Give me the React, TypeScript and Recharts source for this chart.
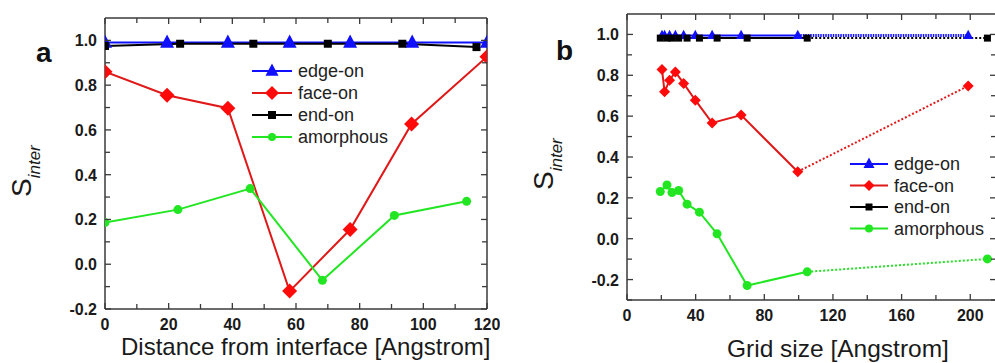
import React from "react";
import { LineChart, Line, XAxis, YAxis } from "recharts";

// ---- panel a: S_inter vs distance from interface ----
const aEdgeX = [0, 19.5, 38.6, 58, 77, 96.5, 120];
const aEdgeY = [0.99, 0.99, 0.99, 0.99, 0.99, 0.99, 0.99];
const aFaceX = [0, 19.5, 38.6, 58, 77, 96.3, 120];
const aFaceY = [0.86, 0.755, 0.697, -0.12, 0.155, 0.627, 0.927];
const aEndX = [0, 23.6, 46.6, 70, 93.4, 116.7];
const aEndY = [0.975, 0.985, 0.985, 0.985, 0.985, 0.97];
const aAmorX = [0, 22.9, 45.6, 68.3, 90.9, 113.6];
const aAmorY = [0.186, 0.244, 0.338, -0.072, 0.218, 0.281];

// ---- panel b: S_inter vs grid size (last segment dotted) ----
const bFaceX = [20.4, 21.9, 24.8, 28.2, 33, 39.8, 49.6, 66.5, 99.5, 198.8];
const bFaceY = [0.828, 0.719, 0.776, 0.816, 0.76, 0.678, 0.567, 0.605, 0.328, 0.748];
const bEdgeY = [0.995, 0.995, 0.995, 0.995, 0.995, 0.995, 0.995, 0.995, 0.995, 0.995];
const bAmorX = [19.4, 23.3, 26.2, 30.1, 35, 42.2, 52.5, 70, 105, 210];
const bAmorY = [0.231, 0.263, 0.226, 0.236, 0.169, 0.13, 0.024, -0.229, -0.162, -0.099];
const bEndY = [0.982, 0.982, 0.982, 0.982, 0.982, 0.982, 0.982, 0.982, 0.982, 0.982];

// axis ticks
const aXTicks = [0, 10, 20, 30, 40, 50, 60, 70, 80, 90, 100, 110, 120];
const aYTicks = [-0.2, -0.1, 0, 0.1, 0.2, 0.3, 0.4, 0.5, 0.6, 0.7, 0.8, 0.9, 1.0];
const bXTicks = [0, 20, 40, 60, 80, 100, 120, 140, 160, 180, 200];
const bYTicks = [-0.3, -0.2, -0.1, 0, 0.1, 0.2, 0.3, 0.4, 0.5, 0.6, 0.7, 0.8, 0.9, 1.0];

const seriesNames = ["edge-on", "face-on", "end-on", "amorphous"];

const FONT = '"Liberation Sans", Arial, sans-serif';
const AXIS = "#3a3a3a";
const BLUE = "#1010ff";
const RED = "#ff0a0a";
const RED_LINE = "#e01818";
const BLACK = "#000000";
const GREEN = "#22e622";

const pts = (xs: number[], ys: number[]) => xs.map((x, i) => ({ x, y: ys[i] }));

type Shape = "triangle" | "diamond" | "square" | "circle";

function Marker({ shape, cx, cy, s, fill }: { shape: Shape; cx: number; cy: number; s: number; fill: string }) {
  if (shape === "triangle")
    return <polygon points={`${cx},${cy - s * 0.58} ${cx - s / 2},${cy + s * 0.36} ${cx + s / 2},${cy + s * 0.36}`} fill={fill} />;
  if (shape === "diamond")
    return <polygon points={`${cx},${cy - s / 2} ${cx + s / 2},${cy} ${cx},${cy + s / 2} ${cx - s / 2},${cy}`} fill={fill} />;
  if (shape === "square") return <rect x={cx - s / 2} y={cy - s / 2} width={s} height={s} fill={fill} />;
  return <circle cx={cx} cy={cy} r={s / 2} fill={fill} />;
}

const dotFn = (shape: Shape, s: number, fill: string) => (p: any) => (
  <g key={`d-${p.index}`}>
    {p.cx != null && p.cy != null ? <Marker shape={shape} cx={p.cx} cy={p.cy} s={s} fill={fill} /> : null}
  </g>
);

const isMajor = (v: number, step: number) => Math.abs(Math.round(v / step) * step - v) < 1e-6;

const xTick = (side: "bottom" | "top", step: number) => (p: any) => {
  const v = p.payload.value;
  const major = isMajor(v, step);
  const dir = side === "bottom" ? -1 : 1;
  return (
    <g>
      <line x1={p.x} x2={p.x} y1={p.y} y2={p.y + dir * (major ? 6 : 5)} stroke={AXIS} strokeWidth={1.3} />
      {side === "bottom" && major ? (
        <text x={p.x} y={p.y + 21} textAnchor="middle" fontFamily={FONT} fontWeight="bold" fontSize={16} fill="#1a1a1a">
          {v}
        </text>
      ) : null}
    </g>
  );
};

const yTick = (side: "left" | "right") => (p: any) => {
  const v = p.payload.value;
  const major = isMajor(v, 0.2);
  const dir = side === "left" ? 1 : -1;
  return (
    <g>
      <line x1={p.x} x2={p.x + dir * (major ? 6 : 5)} y1={p.y} y2={p.y} stroke={AXIS} strokeWidth={1.3} />
      {side === "left" && major ? (
        <text x={p.x - 8} y={p.y + 6} textAnchor="end" fontFamily={FONT} fontWeight="bold" fontSize={16} fill="#1a1a1a">
          {v.toFixed(1)}
        </text>
      ) : null}
    </g>
  );
};

function Axes({ xDomain, yDomain, xTicks, yTicks, xStep, yWidth }: any) {
  return [
    <XAxis key="xb" xAxisId="b" type="number" dataKey="x" domain={xDomain} allowDataOverflow ticks={xTicks} interval={0}
      tickSize={0} tickMargin={0} height={30} tick={xTick("bottom", xStep)} tickLine={false}
      axisLine={{ stroke: AXIS, strokeWidth: 1.5 }} />,
    <XAxis key="xt" xAxisId="t" orientation="top" type="number" dataKey="x" domain={xDomain} allowDataOverflow ticks={xTicks} interval={0}
      tickSize={0} tickMargin={0} height={1} tick={xTick("top", xStep)} tickLine={false}
      axisLine={{ stroke: AXIS, strokeWidth: 1.5 }} />,
    <YAxis key="yl" yAxisId="l" type="number" domain={yDomain} allowDataOverflow ticks={yTicks} interval={0}
      tickSize={0} tickMargin={0} width={yWidth} tick={yTick("left")} tickLine={false}
      axisLine={{ stroke: AXIS, strokeWidth: 1.5 }} />,
    <YAxis key="yr" yAxisId="r" orientation="right" type="number" dataKey="y" domain={yDomain} allowDataOverflow ticks={yTicks} interval={0}
      tickSize={0} tickMargin={0} width={1} tick={yTick("right")} tickLine={false}
      axisLine={{ stroke: AXIS, strokeWidth: 1.5 }} />,
  ];
}

function PanelA() {
  const common = { xAxisId: "b", yAxisId: "l", dataKey: "y", type: "linear" as const, isAnimationActive: false, strokeWidth: 2 };
  return (
    <LineChart width={500} height={363} margin={{ top: 17, right: 12, bottom: 24, left: 0 }}>
      {Axes({ xDomain: [0, 120], yDomain: [-0.2, 1.1], xTicks: aXTicks, yTicks: aYTicks, xStep: 20, yWidth: 105 })}
      {/* invisible series so the mirrored top/right frame axes get drawn */}
      <Line xAxisId="t" yAxisId="r" dataKey="y" data={pts(aEdgeX, aEdgeY)} stroke="none" dot={false} isAnimationActive={false} />
      <Line {...common} data={pts(aEdgeX, aEdgeY)} stroke={BLUE} dot={dotFn("triangle", 14, BLUE)} />
      <Line {...common} data={pts(aFaceX, aFaceY)} stroke={RED_LINE} dot={dotFn("diamond", 15, RED)} />
      <Line {...common} data={pts(aEndX, aEndY)} stroke={BLACK} dot={dotFn("square", 8, BLACK)} />
      <Line {...common} data={pts(aAmorX, aAmorY)} stroke={GREEN} dot={dotFn("circle", 9, GREEN)} />
    </LineChart>
  );
}

function PanelB() {
  const common = { xAxisId: "b", yAxisId: "l", dataKey: "y", type: "linear" as const, isAnimationActive: false, strokeWidth: 2 };
  const face = pts(bFaceX, bFaceY);
  const edge = pts(bFaceX, bEdgeY);
  const amor = pts(bAmorX, bAmorY);
  const end = pts(bAmorX, bEndY);
  const n = face.length;
  return (
    <LineChart width={477} height={363} margin={{ top: 13, right: 0, bottom: 33, left: 0 }}>
      {Axes({ xDomain: [0, 215], yDomain: [-0.3, 1.1], xTicks: bXTicks, yTicks: bYTicks, xStep: 40, yWidth: 107 })}
      <Line xAxisId="t" yAxisId="r" dataKey="y" data={edge} stroke="none" dot={false} isAnimationActive={false} />
      <Line {...common} data={end.slice(n - 2)} stroke={BLACK} strokeDasharray="2 2" dot={false} />
      <Line {...common} data={edge.slice(n - 2)} stroke={BLUE} strokeWidth={3} strokeDasharray="1.5 1" dot={false} />
      <Line {...common} data={face.slice(n - 2)} stroke={RED_LINE} strokeDasharray="2 2" dot={false} />
      <Line {...common} data={amor.slice(n - 2)} stroke={GREEN} strokeDasharray="2 2" dot={false} />
      <Line {...common} data={edge.slice(0, n - 1)} stroke={BLUE} dot={false} />
      <Line {...common} data={edge} stroke="none" dot={dotFn("triangle", 10, BLUE)} />
      <Line {...common} data={end.slice(0, n - 1)} stroke={BLACK} dot={false} />
      <Line {...common} data={end} stroke="none" dot={dotFn("square", 7, BLACK)} />
      <Line {...common} data={face.slice(0, n - 1)} stroke={RED_LINE} dot={dotFn("diamond", 11, RED)} />
      <Line {...common} data={face.slice(n - 1)} stroke="none" dot={dotFn("diamond", 11, RED)} />
      <Line {...common} data={amor.slice(0, n - 1)} stroke={GREEN} dot={dotFn("circle", 9, GREEN)} />
      <Line {...common} data={amor.slice(n - 1)} stroke="none" dot={dotFn("circle", 9, GREEN)} />
    </LineChart>
  );
}

const legendStyle: { shape: Shape; color: string; line: string }[] = [
  { shape: "triangle", color: BLUE, line: BLUE },
  { shape: "diamond", color: RED, line: RED_LINE },
  { shape: "square", color: BLACK, line: BLACK },
  { shape: "circle", color: GREEN, line: GREEN },
];

function Legend({ x, y0, gap, w, sizes }: { x: number; y0: number; gap: number; w: number; sizes: number[] }) {
  return (
    <g>
      {seriesNames.map((name, i) => {
        const y = y0 + i * gap;
        const st = legendStyle[i];
        return (
          <g key={name}>
            <line x1={x} x2={x + w} y1={y} y2={y} stroke={st.line} strokeWidth={2} />
            <Marker shape={st.shape} cx={x + w / 2} cy={y} s={sizes[i]} fill={st.color} />
            <text x={x + w + 6} y={y + 6} fontFamily={FONT} fontSize={18} fill="#222">
              {name}
            </text>
          </g>
        );
      })}
    </g>
  );
}

function YTitle({ x, y }: { x: number; y: number }) {
  return (
    <text transform={`translate(${x},${y}) rotate(-90)`} fontFamily={FONT} fontSize={28} fill="#1a1a1a">
      S
      <tspan fontSize={17} fontStyle="italic" dy={9}>inter</tspan>
    </text>
  );
}

export default function App() {
  return (
    <div style={{ position: "absolute", left: 0, top: 0, width: 995, height: 363, background: "#fff", overflow: "hidden" }}>
      <div style={{ position: "absolute", left: 0, top: 0 }}>
        <PanelA />
      </div>
      <div style={{ position: "absolute", left: 520, top: 0 }}>
        <PanelB />
      </div>
      <svg width={995} height={363} style={{ position: "absolute", left: 0, top: 0, pointerEvents: "none" }}>
        <text x={36} y={62} fontFamily={FONT} fontWeight="bold" fontSize={28} fill="#111">a</text>
        <text x={556} y={60} fontFamily={FONT} fontWeight="bold" fontSize={28} fill="#111">b</text>
        <YTitle x={31} y={197} />
        <YTitle x={553} y={190} />
        <Legend x={252} y0={71} gap={22} w={40} sizes={[13, 14, 8, 8]} />
        <Legend x={850} y0={164} gap={21.5} w={38} sizes={[11, 11, 7, 8]} />
        <text x={121} y={355} fontFamily={FONT} fontSize={24} fill="#1a1a1a">Distance from interface [Angstrom]</text>
        <text x={727} y={357} fontFamily={FONT} fontSize={24.5} fill="#1a1a1a">Grid size [Angstrom]</text>
      </svg>
    </div>
  );
}
